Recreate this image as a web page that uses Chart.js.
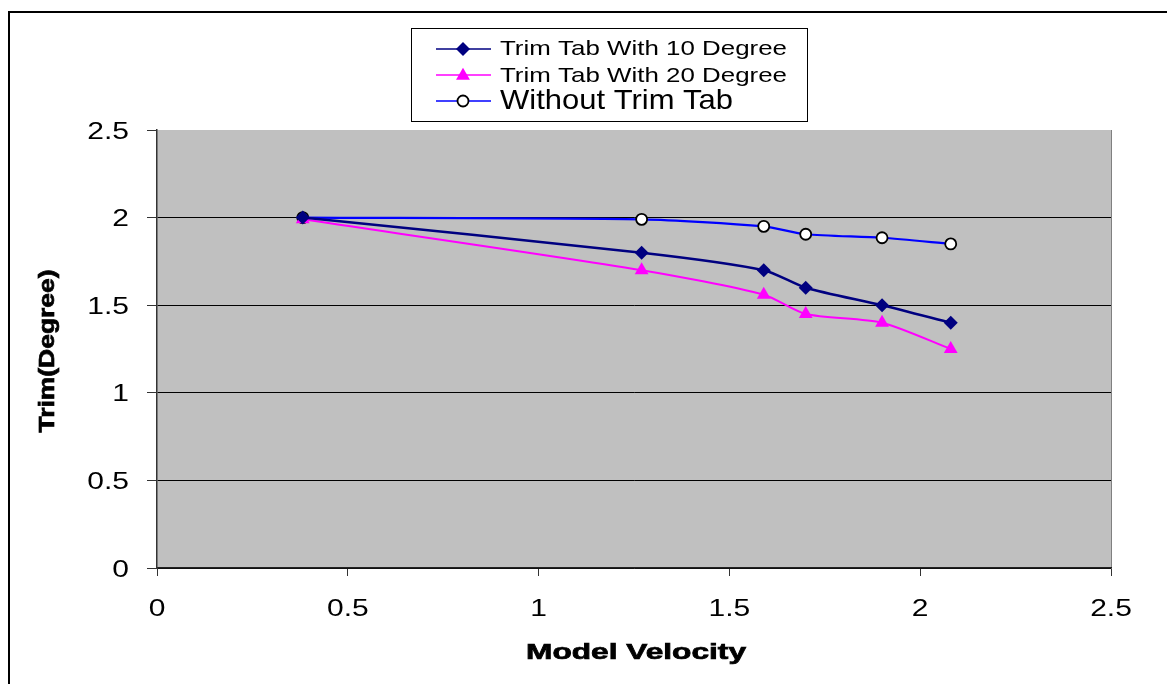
<!DOCTYPE html>
<html>
<head>
<meta charset="utf-8">
<script src="https://cdn.jsdelivr.net/npm/chart.js@4/dist/chart.umd.min.js"></script>
<style>
  html, body { margin: 0; padding: 0; background: #fff; }
  #wrap { width: 1167px; height: 684px; position: relative; }
</style>
</head>
<body>
<div id="wrap"><canvas id="trimChart" width="1167" height="684"></canvas></div>
<script>
// Model velocity readings
const velocity = [0.382, 1.27, 1.59, 1.70, 1.90, 2.08];

// Trim (degree) for each configuration
const trim10 = [2.0, 1.80, 1.70, 1.60, 1.50, 1.40];
const trim20 = [1.99, 1.70, 1.56, 1.45, 1.40, 1.25];
const trimNone = [2.0, 1.99, 1.95, 1.905, 1.885, 1.85];

const seriesLabels = ["Trim Tab With 10 Degree", "Trim Tab With 20 Degree", "Without Trim Tab"];
const xTicks = [0, 0.5, 1, 1.5, 2, 2.5];
const yTicks = [0, 0.5, 1, 1.5, 2, 2.5];

const FONT = "'Liberation Sans', Arial, sans-serif";

function toPoints(ys) {
  return velocity.map((v, i) => ({ x: v, y: ys[i] }));
}

// the original image is stretched sideways, so text is drawn with a horizontal scale
function wideText(ctx, text, x, y, size, opts) {
  const o = Object.assign({ bold: false, width: null, sx: 1.25, align: "center", rotate: 0 }, opts);
  ctx.save();
  ctx.font = (o.bold ? "bold " : "") + size + "px " + FONT;
  let sx = o.sx;
  if (o.width) sx = o.width / ctx.measureText(text).width;
  ctx.translate(x, y);
  if (o.rotate) ctx.rotate(o.rotate);
  ctx.scale(sx, 1);
  ctx.fillStyle = "#000";
  ctx.textAlign = o.align;
  ctx.textBaseline = "alphabetic";
  // y is the middle of the capitals
  ctx.fillText(text, 0, size * 0.358);
  if (o.bold) {
    ctx.strokeStyle = "#000";
    ctx.lineWidth = 0.7;
    ctx.strokeText(text, 0, size * 0.358);
  }
  ctx.restore();
}

function drawMarker(ctx, ds, x, y) {
  ctx.save();
  ctx.fillStyle = ds.pointBackgroundColor;
  ctx.strokeStyle = ds.pointBorderColor;
  ctx.lineWidth = ds.pointBorderWidth;
  const r = ds.pointRadius;
  ctx.beginPath();
  if (ds.pointStyle === "rectRot") {
    ctx.moveTo(x, y - r); ctx.lineTo(x + r, y); ctx.lineTo(x, y + r); ctx.lineTo(x - r, y);
  } else if (ds.pointStyle === "triangle") {
    ctx.moveTo(x, y - r * 0.9); ctx.lineTo(x + r * 0.87, y + r * 0.6); ctx.lineTo(x - r * 0.87, y + r * 0.6);
  } else {
    ctx.arc(x, y, r, 0, Math.PI * 2);
  }
  ctx.closePath();
  ctx.fill();
  if (ds.pointBorderWidth) ctx.stroke();
  ctx.restore();
}

// Grey plot area, outer frame, axis text and boxed legend
const frame = {
  id: "frame",
  beforeDraw(chart) {
    const { ctx, chartArea: a } = chart;
    ctx.save();
    ctx.fillStyle = "#c0c0c0";
    ctx.fillRect(a.left, a.top, a.right - a.left, a.bottom - a.top);
    ctx.strokeStyle = "#808080";
    ctx.lineWidth = 1;
    ctx.beginPath();
    ctx.moveTo(a.right + 0.5, a.top);
    ctx.lineTo(a.right + 0.5, a.bottom);
    ctx.stroke();
    ctx.restore();
  },
  afterDraw(chart) {
    const ctx = chart.ctx;
    const a = chart.chartArea;
    const sx = chart.scales.x, sy = chart.scales.y;
    ctx.save();

    // outer border
    ctx.strokeStyle = "#000";
    ctx.lineWidth = 2;
    ctx.beginPath();
    ctx.moveTo(9, 700);
    ctx.lineTo(9, 12);
    ctx.lineTo(1200, 12);
    ctx.stroke();

    // tick labels
    yTicks.forEach(v => wideText(ctx, String(v), 129, sy.getPixelForValue(v), 24, { align: "right" }));
    xTicks.forEach(v => wideText(ctx, String(v), sx.getPixelForValue(v), 607, 24));

    // axis titles
    wideText(ctx, "Model Velocity", (a.left + a.right) / 2 + 2, 651, 21.5, { bold: true, width: 220 });
    wideText(ctx, "Trim(Degree)", 46, (a.top + a.bottom) / 2 + 2, 21.5, { bold: true, width: 163, rotate: -Math.PI / 2 });

    // legend box
    ctx.fillStyle = "#fff";
    ctx.fillRect(411, 28, 396, 93);
    ctx.lineWidth = 1;
    ctx.strokeStyle = "#000";
    ctx.strokeRect(411.5, 28.5, 396, 93);

    const rows = [49, 75, 101];
    const textY = [47.5, 74.5, 99];
    const sizes = [21, 21, 28];
    const widths = [287, 287, 233];
    chart.data.datasets.forEach((ds, i) => {
      const y = rows[i];
      ctx.strokeStyle = ds.borderColor;
      ctx.lineWidth = 1.5;
      ctx.beginPath();
      ctx.moveTo(436, y);
      ctx.lineTo(491, y);
      ctx.stroke();
      drawMarker(ctx, ds, 463, y);
      wideText(ctx, seriesLabels[i], 500, textY[i], sizes[i], { align: "left", width: widths[i] });
    });
    ctx.restore();
  }
};

const ctx = document.getElementById("trimChart").getContext("2d");
new Chart(ctx, {
  type: "scatter",
  data: {
    datasets: [
      {
        label: seriesLabels[0],
        data: toPoints(trim10),
        showLine: true,
        borderColor: "#000080",
        borderWidth: 2.5,
        pointStyle: "rectRot",
        pointRadius: 7,
        pointBackgroundColor: "#000080",
        pointBorderColor: "#000080",
        pointBorderWidth: 0,
        tension: 0.25,
      },
      {
        label: seriesLabels[1],
        data: toPoints(trim20),
        showLine: true,
        borderColor: "#ff00ff",
        borderWidth: 2,
        pointStyle: "triangle",
        pointRadius: 8,
        pointBackgroundColor: "#ff00ff",
        pointBorderColor: "#ff00ff",
        pointBorderWidth: 0,
        tension: 0.25,
      },
      {
        label: seriesLabels[2],
        data: toPoints(trimNone),
        showLine: true,
        borderColor: "#0000ff",
        borderWidth: 2.2,
        pointStyle: "circle",
        pointRadius: 5.5,
        pointBackgroundColor: "#ffffff",
        pointBorderColor: "#000000",
        pointBorderWidth: 1.8,
        tension: 0.25,
      },
    ],
  },
  options: {
    responsive: false,
    animation: false,
    layout: { padding: { top: 130, right: 56, left: 0, bottom: 0 } },
    plugins: {
      legend: { display: false },
      tooltip: { enabled: false },
    },
    scales: {
      x: {
        type: "linear",
        min: 0,
        max: 2.5,
        afterBuildTicks(axis) { axis.ticks = xTicks.map(v => ({ value: v })); },
        afterFit(axis) { axis.height = 116; },
        grid: { drawOnChartArea: false, tickLength: 8, tickColor: "#333", tickWidth: 1 },
        border: { color: "#222", width: 1.5 },
        ticks: { display: false },
        title: { display: false },
      },
      y: {
        min: 0,
        max: 2.5,
        afterBuildTicks(axis) { axis.ticks = yTicks.map(v => ({ value: v })); },
        afterFit(axis) { axis.width = 157; },
        grid: {
          color: c => (c.tick && c.tick.value === 2.5 ? "rgba(0,0,0,0)" : "#000"),
          lineWidth: 1,
          tickLength: 10,
          tickColor: "#333",
        },
        border: { color: "#333", width: 1.5 },
        ticks: { display: false },
        title: { display: false },
      },
    },
  },
  plugins: [frame],
});
</script>
</body>
</html>
